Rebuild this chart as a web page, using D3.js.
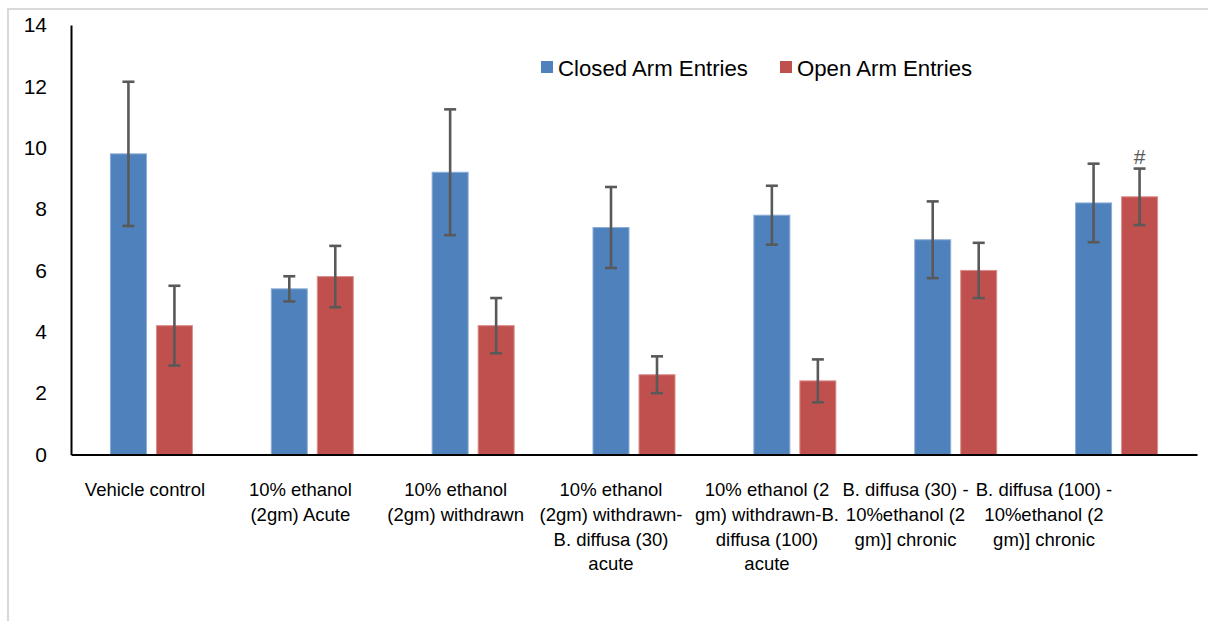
<!DOCTYPE html>
<html>
<head>
<meta charset="utf-8">
<script src="https://cdn.jsdelivr.net/npm/d3@7/dist/d3.min.js"></script>
<style>
  html, body { margin: 0; padding: 0; background: #fff; }
  svg { display: block; }
</style>
</head>
<body>
<svg id="chart" width="1208" height="621"></svg>
<script>
// Elevated plus maze: arm entries per treatment group (mean ± SD)
const categories = [
  "Vehicle control",
  "10% ethanol\n(2gm) Acute",
  "10% ethanol\n(2gm) withdrawn",
  "10% ethanol\n(2gm) withdrawn-\nB. diffusa (30)\nacute",
  "10% ethanol (2\ngm) withdrawn-B.\ndiffusa (100)\nacute",
  "B. diffusa (30) -\n10%ethanol (2\ngm)] chronic",
  "B. diffusa (100) -\n10%ethanol (2\ngm)] chronic"
];
const seriesNames = ["Closed Arm Entries", "Open Arm Entries"];
const closedEntries = [9.8, 5.4, 9.2, 7.4, 7.8, 7.0, 8.2];
const closedError   = [2.35, 0.41, 2.05, 1.32, 0.96, 1.25, 1.28];
const openEntries   = [4.2, 5.8, 4.2, 2.6, 2.4, 6.0, 8.4];
const openError     = [1.3, 1.0, 0.9, 0.6, 0.7, 0.9, 0.92];
const openMarks     = ["", "", "", "", "", "", "#"];
const yTicks = [0, 2, 4, 6, 8, 10, 12, 14];

const colors = { "Closed Arm Entries": "#4F81BD", "Open Arm Entries": "#C0504D" };
const edgeColors = { "Closed Arm Entries": "#8DADD6", "Open Arm Entries": "#DA8E8C" };
const fontStack = "'Liberation Sans', Arial, sans-serif";

const svg = d3.select("#chart").attr("font-family", fontStack);

// outer frame
svg.append("rect")
  .attr("x", 8).attr("y", 9).attr("width", 1220).attr("height", 700)
  .attr("fill", "none").attr("stroke", "#d9d9d9").attr("stroke-width", 2);

const plot = { left: 71, right: 1197, top: 25, bottom: 454.5 };

const x0 = d3.scaleBand().domain(categories).range([plot.left, plot.right]).padding(0);
const bw = x0.bandwidth();
const x1 = d3.scaleBand().domain(seriesNames)
  .range([bw / 2 - 41, bw / 2 + 41]).paddingInner(10 / 46).paddingOuter(0);
const y = d3.scaleLinear().domain([0, 14]).range([plot.bottom, plot.top]);

// category labels are laid out on their own row, spread by label index
const xLabel = d3.scaleLinear().domain([0, 3, 4, 6]).range([145, 611, 767, 1044]);

const rows = categories.map((c, i) => ({
  cat: c,
  values: [
    { key: seriesNames[0], v: closedEntries[i], e: closedError[i], mark: "" },
    { key: seriesNames[1], v: openEntries[i], e: openError[i], mark: openMarks[i] }
  ]
}));

const groups = svg.append("g").selectAll("g").data(rows).join("g")
  .attr("transform", d => `translate(${x0(d.cat)},0)`);

groups.selectAll("rect").data(d => d.values).join("rect")
  .attr("x", d => x1(d.key))
  .attr("y", d => y(d.v))
  .attr("width", x1.bandwidth())
  .attr("height", d => y(0) - y(d.v))
  .attr("fill", d => colors[d.key])
  .attr("stroke", d => edgeColors[d.key])
  .attr("stroke-width", 1);

// error bars
const eb = groups.selectAll("g.err").data(d => d.values).join("g").attr("class", "err")
  .attr("transform", d => `translate(${x1(d.key) + x1.bandwidth() / 2},0)`);
const ebColor = "#595959", ebW = 2.6, cap = 6;
eb.append("line")
  .attr("y1", d => y(d.v - d.e)).attr("y2", d => y(d.v + d.e))
  .attr("stroke", ebColor).attr("stroke-width", ebW);
eb.append("line")
  .attr("x1", -cap).attr("x2", cap)
  .attr("y1", d => y(d.v + d.e)).attr("y2", d => y(d.v + d.e))
  .attr("stroke", ebColor).attr("stroke-width", ebW);
eb.append("line")
  .attr("x1", -cap).attr("x2", cap)
  .attr("y1", d => y(d.v - d.e)).attr("y2", d => y(d.v - d.e))
  .attr("stroke", ebColor).attr("stroke-width", ebW);
eb.filter(d => d.mark).append("text")
  .attr("y", d => y(d.v + d.e) - 5)
  .attr("text-anchor", "middle")
  .attr("font-size", 21)
  .attr("fill", "#595959")
  .text(d => d.mark);

// y axis
const yAxis = d3.axisLeft(y).tickValues(yTicks).tickSize(0).tickPadding(24);
const gy = svg.append("g").attr("transform", `translate(${plot.left},0)`).call(yAxis)
  .attr("font-family", fontStack);
gy.select(".domain").attr("stroke", "#000").attr("stroke-width", 2);
gy.selectAll(".tick text").attr("font-size", 21).attr("fill", "#000");

// x axis line
const xAxis = d3.axisBottom(x0).tickSize(0).tickFormat("");
const gx = svg.append("g").attr("transform", `translate(0,${plot.bottom})`).call(xAxis);
gx.select(".domain").attr("stroke", "#000").attr("stroke-width", 2);

// category labels
const lab = svg.append("g").selectAll("text").data(categories).join("text")
  .attr("x", (d, i) => xLabel(i))
  .attr("y", 496)
  .attr("text-anchor", "middle")
  .attr("font-size", 18.5);
lab.selectAll("tspan").data(d => d.split("\n")).join("tspan")
  .attr("x", function () { return d3.select(this.parentNode).attr("x"); })
  .attr("dy", (d, i) => i === 0 ? 0 : 24.8)
  .text(d => d);

// legend
const legendX = [541, 780];
const leg = svg.append("g").selectAll("g").data(seriesNames).join("g")
  .attr("transform", (d, i) => `translate(${legendX[i]},61)`);
leg.append("rect").attr("width", 12).attr("height", 12).attr("fill", d => colors[d]);
leg.append("text").attr("x", 17).attr("y", 15)
  .attr("font-size", 22.2).text(d => d);
</script>
</body>
</html>
